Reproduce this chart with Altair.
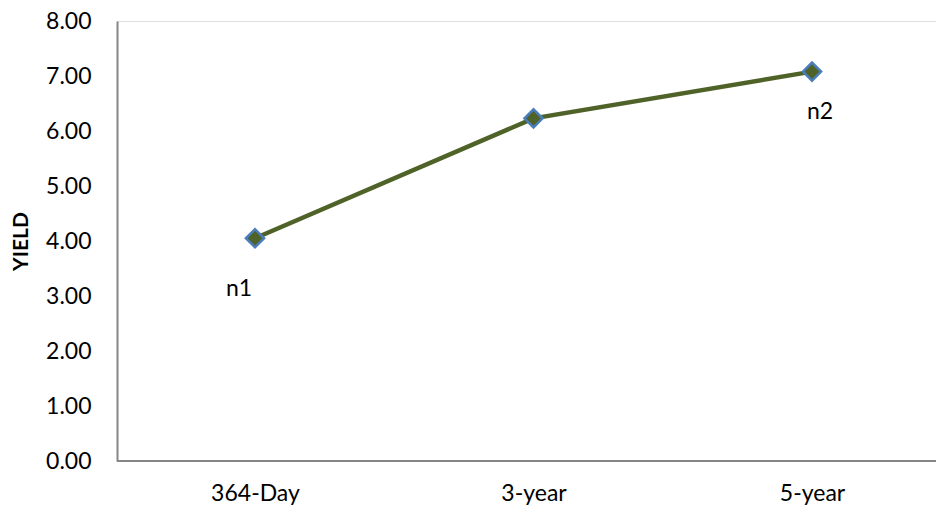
import altair as alt
import pandas as pd

categories = ["364-Day", "3-year", "5-year"]
yields = [4.05, 6.23, 7.08]
point_labels = ["n1", "", "n2"]

df = pd.DataFrame({"term": categories, "yield": yields, "label": point_labels})

FONT = "Lato"
FS = 23
W, H = 819, 440

x_enc = alt.X("term:N", sort=categories,
              scale=alt.Scale(type="point", range=[138, 695], padding=0),
              axis=alt.Axis(title=None, domain=False, ticks=False, labelAngle=0,
                            labelPadding=21, labelFontSize=FS, labelFont=FONT,
                            labelColor="#000000"))
y_enc = alt.Y("yield:Q", scale=alt.Scale(domain=[0, 8], nice=False),
              axis=alt.Axis(title="YIELD", values=[0, 1, 2, 3, 4, 5, 6, 7, 8], format=".2f",
                            grid=False, ticks=False, domainColor="#868686", domainWidth=2,
                            labelFontSize=FS, labelFont=FONT, labelColor="#000000",
                            labelPadding=26, titleFont=FONT, titleFontSize=21,
                            titleFontWeight="bold", titleColor="#000000", titlePadding=14))

base = alt.Chart(df).encode(x=x_enc, y=y_enc)

xaxis_line = alt.Chart(df).mark_rule(color="#868686", strokeWidth=2).encode(
    x=alt.value(0), x2=alt.value(W), y=alt.value(H))

line = base.mark_line(color="#4F6228", strokeWidth=4.5)
pts = base.mark_point(shape="diamond", size=330, filled=True, fill="#4F6228",
                      stroke="#4A7EBB", strokeWidth=2.5, opacity=1)
txt = base.mark_text(dx=-16, dy=51, fontSize=FS, font=FONT, color="#000000").encode(
    text="label:N").transform_filter(alt.datum.term == "364-Day")
txt2 = base.mark_text(dx=8, dy=40, fontSize=FS, font=FONT, color="#000000").encode(
    text="label:N").transform_filter(alt.datum.term == "5-year")

chart = alt.layer(xaxis_line, line, pts, txt, txt2).properties(
    width=W, height=H,
    autosize=alt.AutoSizeParams(type="none"),
    padding={"left": 109, "top": 13, "right": 0, "bottom": 52},
).configure_view(stroke=None).configure(background="#ffffff")

chart.save("out.html", embed_options={"renderer": "svg", "actions": False})
